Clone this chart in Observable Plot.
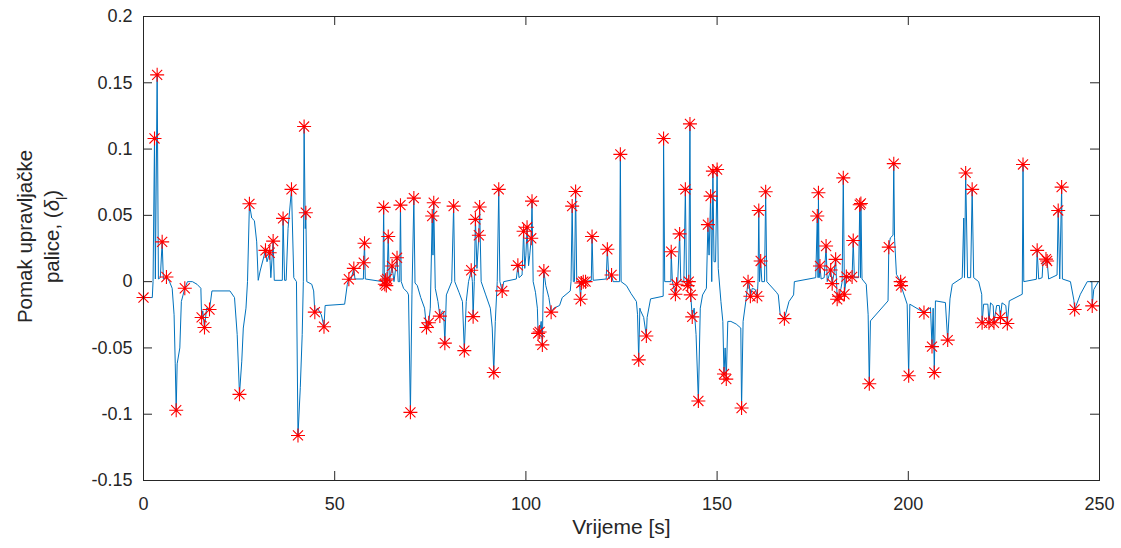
<!DOCTYPE html>
<html><head><meta charset="utf-8">
<script src="https://cdn.jsdelivr.net/npm/d3@7"></script>
<script src="https://cdn.jsdelivr.net/npm/@observablehq/plot@0.6"></script>
<style>html,body{margin:0;padding:0;background:#fff} #chart svg{display:block}</style>
</head><body><div id="chart"></div>
<script>
// Stick deflection signal [time s, deflection]
const signal = [
[0,-0.012],[2.3,-0.012],[2.5,0],[2.88,0.108],[3.1,0.002],[3.57,0.156],[3.9,0.002],[4.4,0.003],[4.88,0.030],[5.2,0.002],[6.0,0.0035],[6.8,0],[7.5,-0.005],[8.0,-0.025],[8.3,-0.062],[8.55,-0.097],[8.8,-0.062],[9.5,-0.05],[9.9,-0.015],[10.8,-0.005],[11.5,0],[12.8,0],[14.0,-0.002],[15.0,-0.005],[15.2,-0.027],[15.5,-0.022],[15.95,-0.0346],[16.5,-0.02],[17.26,-0.021],[17.9,-0.007],[22.6,-0.007],[23.8,-0.012],[24.5,-0.04],[25.1,-0.085],[25.7,-0.06],[26.1,-0.035],[26.8,-0.02],[27.2,0],[27.7,0.0587],[28.3,0.048],[29.0,0.046],[29.6,0.03],[30.0,0.001],[30.5,0.008],[31.9,0.0236],[32.3,0.015],[33.0,0.0218],[33.3,0.003],[33.9,0.0306],[34.2,0.001],[36.3,0.001],[36.5,0.0477],[36.9,0.001],[37.3,0.001],[37.8,0.04],[38.7,0.0696],[39.3,0.003],[40.0,0],[40.4,-0.116],[41.0,-0.08],[41.5,-0.04],[41.8,0],[42.0,0.117],[42.3,0.04],[42.45,0.052],[42.7,0],[44.0,-0.002],[44.5,-0.007],[44.8,-0.023],[45.5,-0.02],[46.5,-0.025],[47.2,-0.034],[47.5,-0.018],[52.6,-0.017],[53.3,-0.002],[53.7,0.0018],[54.3,0.002],[55.0,0.010],[55.3,0.002],[57.5,0.002],[57.6,0.0143],[57.8,0.029],[58.0,0.002],[62.6,0],[62.8,0.056],[63.0,0],[63.1,-0.002],[63.3,0.001],[63.5,-0.003],[63.7,0.002],[64.0,0.034],[64.3,0],[65.0,0.0118],[65.5,0],[66.3,0.018],[66.6,0],[67.0,0],[67.2,0.0577],[67.4,0],[68.0,-0.005],[69.0,-0.008],[69.3,-0.01],[69.8,-0.0986],[70.2,-0.01],[70.7,0.063],[71.0,-0.001],[71.6,-0.003],[72.5,-0.012],[73.5,-0.02],[74.0,-0.0346],[74.6,-0.031],[75.0,-0.02],[75.5,0.0495],[75.7,0.02],[75.9,0.0595],[76.3,-0.005],[77.0,-0.015],[77.5,-0.026],[78.2,-0.022],[78.5,-0.023],[78.8,-0.0464],[79.2,-0.01],[80.6,0],[81.1,0.057],[81.4,0],[82.5,-0.008],[83.4,-0.015],[83.9,-0.052],[84.4,-0.015],[85.0,0],[85.7,0.0086],[86.0,0],[86.2,-0.0264],[86.5,0],[86.8,0.047],[87.2,0.01],[87.7,0.035],[87.9,0.0563],[88.3,0],[89.5,-0.01],[90.7,-0.02],[91.2,-0.035],[91.6,-0.0685],[92.0,-0.03],[92.5,0],[92.9,0.0696],[93.2,0],[93.8,-0.007],[94.2,0],[97.5,0.002],[97.9,0.0123],[98.2,0.003],[99.0,0.005],[99.4,0.038],[99.7,0.01],[100.0,0.02],[100.3,0.041],[100.7,0.012],[101.0,0.02],[101.4,0.0327],[101.6,0.0607],[101.9,0],[102.5,-0.008],[103.0,-0.02],[103.2,-0.039],[103.4,-0.036],[103.6,-0.038],[104.0,-0.03],[104.3,-0.0477],[104.5,-0.01],[104.7,0.008],[105.2,-0.003],[106.0,-0.012],[106.6,-0.023],[107.3,-0.02],[108.8,-0.018],[109.5,-0.012],[111.6,-0.007],[111.8,0],[112.1,0.057],[112.4,0],[112.7,0],[113.0,0.068],[113.3,0],[114.0,0],[114.3,-0.0133],[114.5,-0.001],[115.0,0],[115.6,0],[117.1,0.001],[117.3,0.034],[117.6,0.001],[121.0,0.002],[121.3,0.0244],[121.7,0.002],[122.4,0.005],[122.8,0],[124.5,0],[124.7,0.096],[124.9,0],[126.3,-0.003],[127.5,-0.009],[128.9,-0.015],[129.2,-0.025],[129.5,-0.059],[129.8,-0.02],[130.0,-0.022],[130.8,-0.027],[131.5,-0.041],[131.7,-0.027],[132.6,-0.013],[135.9,-0.011],[136.0,0.108],[136.3,0],[137.9,0],[138.0,0.0226],[138.3,0],[139.1,-0.0095],[139.4,-0.002],[139.7,0],[140.2,0.036],[140.5,0],[141.3,0],[141.7,0.0696],[142.0,0],[142.3,-0.003],[142.6,0],[142.9,0.119],[143.1,-0.01],[143.5,-0.0266],[144.0,-0.02],[144.5,-0.04],[145.1,-0.09],[145.6,-0.02],[146.2,-0.01],[147.2,-0.005],[147.4,0.02],[147.6,0.043],[147.9,0.02],[148.3,0.0645],[148.6,0],[148.9,0.0834],[149.2,0.015],[149.6,0.015],[150.0,0.0846],[150.3,0.01],[151.0,-0.015],[151.5,-0.03],[151.8,-0.0697],[152.1,-0.05],[152.4,-0.0735],[152.8,-0.03],[153.6,-0.03],[155.0,-0.032],[156.2,-0.035],[156.4,-0.0953],[156.8,-0.03],[157.5,-0.015],[158.1,0],[158.4,-0.002],[158.7,-0.011],[159.2,-0.005],[160.0,-0.006],[160.5,-0.011],[160.7,0],[160.9,0.0537],[161.1,0],[161.4,0.0156],[161.7,0],[162.4,0],[162.7,0.0678],[163.0,0],[165.5,-0.008],[166.0,-0.01],[166.5,-0.025],[167.6,-0.0279],[168.8,-0.015],[170.0,-0.01],[170.2,0],[175.8,0.003],[176.2,0.0495],[176.4,0.003],[176.5,0.067],[176.7,0.003],[176.9,0.0118],[177.2,0.002],[178.0,0.003],[178.5,0.0269],[178.8,0],[179.7,0.0088],[180.1,-0.0015],[180.5,0.005],[181.0,0.0168],[181.3,-0.005],[181.4,-0.0133],[181.9,-0.011],[182.4,-0.005],[182.7,0],[183.0,0.0783],[183.3,-0.0095],[183.8,0.0038],[184.5,0.003],[185.3,0.0035],[185.6,0.031],[185.9,0.003],[187.0,0.003],[187.3,0.058],[187.5,0.003],[187.6,0.059],[187.9,0.002],[189.0,-0.002],[189.5,-0.025],[189.8,-0.077],[190.1,-0.0296],[194.7,-0.0145],[194.9,0.026],[195.3,0.033],[196.0,0.035],[196.2,0.089],[196.4,0.033],[196.9,0.0055],[198.0,0],[198.1,-0.003],[199.7,-0.017],[200.1,-0.071],[200.4,-0.017],[204.1,-0.0233],[205.8,-0.0196],[206.2,-0.049],[206.5,-0.02],[206.8,-0.0685],[207.1,-0.0145],[209.7,-0.0158],[210.3,-0.0441],[210.9,-0.013],[211.5,-0.002],[214.1,0.003],[214.5,0.048],[214.7,0.003],[215.0,0.082],[215.5,0.003],[216.3,0.003],[216.7,0.0696],[217.1,0.003],[218.4,0],[219.2,-0.0095],[219.3,-0.031],[219.7,-0.017],[220.8,-0.017],[221.1,-0.031],[221.5,-0.016],[222.2,-0.018],[222.4,-0.031],[223.1,-0.018],[223.8,-0.018],[224.1,-0.027],[224.5,-0.016],[225.5,-0.018],[225.9,-0.0316],[226.4,-0.0145],[229.8,-0.0095],[230.0,0.0884],[230.2,0],[233.5,0.0018],[233.7,0.0236],[234.1,0.002],[235.0,0.003],[235.2,0.014],[236.0,0.017],[236.3,0.0156],[236.7,0.002],[238.9,0.005],[239.2,0.0537],[239.6,0.002],[240.1,0.0713],[240.3,0.002],[242.4,0],[243.3,-0.014],[243.5,-0.021],[245.0,-0.0095],[246.8,0],[248.0,0],[248.1,-0.0183],[248.5,-0.006],[249.7,0]
];

// Detected extrema [time s, deflection]
const peaks = [
[0,-0.012],[2.88,0.108],[3.57,0.156],[4.88,0.030],[6.0,0.0035],[8.55,-0.097],[10.8,-0.005],[15.2,-0.027],[15.95,-0.0346],[17.26,-0.021],[25.1,-0.085],[27.7,0.0587],[31.9,0.0236],[33.0,0.0218],[33.9,0.0306],[36.5,0.0477],[38.7,0.0696],[40.4,-0.116],[42.0,0.117],[42.45,0.052],[44.8,-0.023],[47.2,-0.034],[53.7,0.0018],[55.0,0.010],[57.6,0.0143],[57.8,0.029],[62.8,0.056],[63.1,-0.002],[63.3,0.001],[63.5,-0.003],[63.7,0.002],[64.0,0.034],[65.0,0.0118],[66.3,0.018],[67.2,0.0577],[69.8,-0.0986],[70.7,0.063],[74.0,-0.0346],[74.6,-0.031],[75.5,0.0495],[75.9,0.0595],[77.5,-0.026],[78.8,-0.0464],[81.1,0.057],[83.9,-0.052],[85.7,0.0086],[86.2,-0.0264],[86.8,0.047],[87.7,0.035],[87.9,0.0563],[91.6,-0.0685],[92.9,0.0696],[93.8,-0.007],[97.9,0.0123],[99.4,0.038],[100.3,0.041],[101.4,0.0327],[101.6,0.0607],[103.2,-0.039],[103.6,-0.038],[104.3,-0.0477],[104.7,0.008],[106.6,-0.023],[112.1,0.057],[113.0,0.068],[114.3,-0.0133],[114.5,-0.001],[115.0,0],[115.6,0],[117.3,0.034],[121.3,0.0244],[122.4,0.005],[124.7,0.096],[129.5,-0.059],[131.5,-0.041],[136.0,0.108],[138.0,0.0226],[139.1,-0.0095],[139.4,-0.002],[140.2,0.036],[141.7,0.0696],[142.3,-0.003],[142.6,0],[142.9,0.119],[143.1,-0.01],[143.5,-0.0266],[145.1,-0.09],[147.6,0.043],[148.3,0.0645],[148.9,0.0834],[150.0,0.0846],[151.8,-0.0697],[152.4,-0.0735],[156.4,-0.0953],[158.1,0],[158.7,-0.011],[160.5,-0.011],[160.9,0.0537],[161.4,0.0156],[162.7,0.0678],[167.6,-0.0279],[176.2,0.0495],[176.5,0.067],[176.9,0.0118],[178.5,0.0269],[179.7,0.0088],[180.1,-0.0015],[181.0,0.0168],[181.4,-0.0133],[181.9,-0.011],[183.0,0.0783],[183.3,-0.0095],[183.8,0.0038],[185.3,0.0035],[185.6,0.031],[187.3,0.058],[187.6,0.059],[189.8,-0.077],[194.9,0.026],[196.2,0.089],[198.0,0],[198.1,-0.003],[200.1,-0.071],[204.1,-0.0233],[206.2,-0.049],[206.8,-0.0685],[210.3,-0.0441],[215.0,0.082],[216.7,0.0696],[219.3,-0.031],[221.1,-0.031],[222.4,-0.031],[224.1,-0.027],[225.9,-0.0316],[230.0,0.0884],[233.7,0.0236],[236.0,0.017],[236.3,0.0156],[239.2,0.0537],[240.1,0.0713],[243.5,-0.021],[248.1,-0.0183]
];

const xTicks = [0, 50, 100, 150, 200, 250];
const xTickLabels = ["0", "50", "100", "150", "200", "250"];
const yTicks = [-0.15, -0.1, -0.05, 0, 0.05, 0.1, 0.15, 0.2];
const yTickLabels = ["-0.15", "-0.1", "-0.05", "0", "0.05", "0.1", "0.15", "0.2"];
const xLabel = "Vrijeme [s]";
const yLabel = "Pomak upravljačke\npalice, (δl)";

const W = 1121, H = 548;
const mL = 143, mR = 22, mT = 16, mB = 68;
const plotW = W - mL - mR, plotH = H - mT - mB;
const tickLen = 9;
const axisColor = "#262626";

// MATLAB-style '*' marker (plus + times)
const matlabStar = {
  draw(ctx, size) {
    const r = Math.sqrt(size / Math.PI);
    const d = r * 0.72;
    ctx.moveTo(-r, 0); ctx.lineTo(r, 0);
    ctx.moveTo(0, -r); ctx.lineTo(0, r);
    ctx.moveTo(-d, -d); ctx.lineTo(d, d);
    ctx.moveTo(-d, d); ctx.lineTo(d, -d);
  }
};

const chart = Plot.plot({
  width: W, height: H,
  marginLeft: mL, marginRight: mR, marginTop: mT, marginBottom: mB,
  style: {fontFamily: "'Liberation Sans', Arial, Helvetica, sans-serif", color: axisColor, background: "#fff"},
  x: {domain: [0, 250]},
  y: {domain: [-0.15, 0.2]},
  marks: [
    Plot.line(signal, {x: d => d[0], y: d => d[1], stroke: "#0072BD", strokeWidth: 1, curve: "linear"}),
    Plot.dot(peaks, {x: d => d[0], y: d => d[1], symbol: matlabStar, r: 7, stroke: "#ff0000", fill: "none", strokeWidth: 1.1}),
    Plot.frame({stroke: axisColor, strokeWidth: 1}),
    Plot.tickX(xTicks, {x: d => d, insetTop: plotH - tickLen, stroke: axisColor}),
    Plot.tickX(xTicks, {x: d => d, insetBottom: plotH - tickLen, stroke: axisColor}),
    Plot.tickY(yTicks, {y: d => d, insetRight: plotW - tickLen, stroke: axisColor}),
    Plot.tickY(yTicks, {y: d => d, insetLeft: plotW - tickLen, stroke: axisColor}),
    Plot.axisX(xTicks, {tickSize: 0, tickPadding: 17, fontSize: 18, label: null, tickFormat: d => xTickLabels[xTicks.indexOf(d)]}),
    Plot.axisY(yTicks, {tickSize: 0, tickPadding: 11, fontSize: 18, label: null, tickFormat: d => yTickLabels[yTicks.indexOf(d)]}),
    Plot.text([xLabel], {frameAnchor: "bottom", dy: 53, text: d => d, fontSize: 21, fill: axisColor, textAnchor: "middle"}),
    Plot.text([yLabel], {frameAnchor: "left", dx: -106.5, dy: -12, rotate: -90, text: d => d, fontSize: 20.5, lineHeight: 1.32, fill: axisColor, textAnchor: "middle"})
  ]
});

document.getElementById("chart").appendChild(chart);

// italic delta with subscript l in the y label
chart.querySelectorAll("tspan, text").forEach(n => {
  if (n.childNodes.length === 1 && n.firstChild.nodeType === 3 && n.textContent.includes("(δl)")) {
    const ns = "http://www.w3.org/2000/svg";
    const txt = n.textContent;
    const idx = txt.indexOf("δl");
    n.textContent = txt.slice(0, idx);
    const delta = document.createElementNS(ns, "tspan");
    delta.setAttribute("font-style", "italic");
    delta.textContent = "δ";
    const sub = document.createElementNS(ns, "tspan");
    sub.setAttribute("baseline-shift", "sub");
    sub.setAttribute("font-size", "70%");
    sub.textContent = "l";
    n.appendChild(delta);
    n.appendChild(sub);
    n.appendChild(document.createTextNode(txt.slice(idx + 2)));
  }
});
</script>
</body></html>
